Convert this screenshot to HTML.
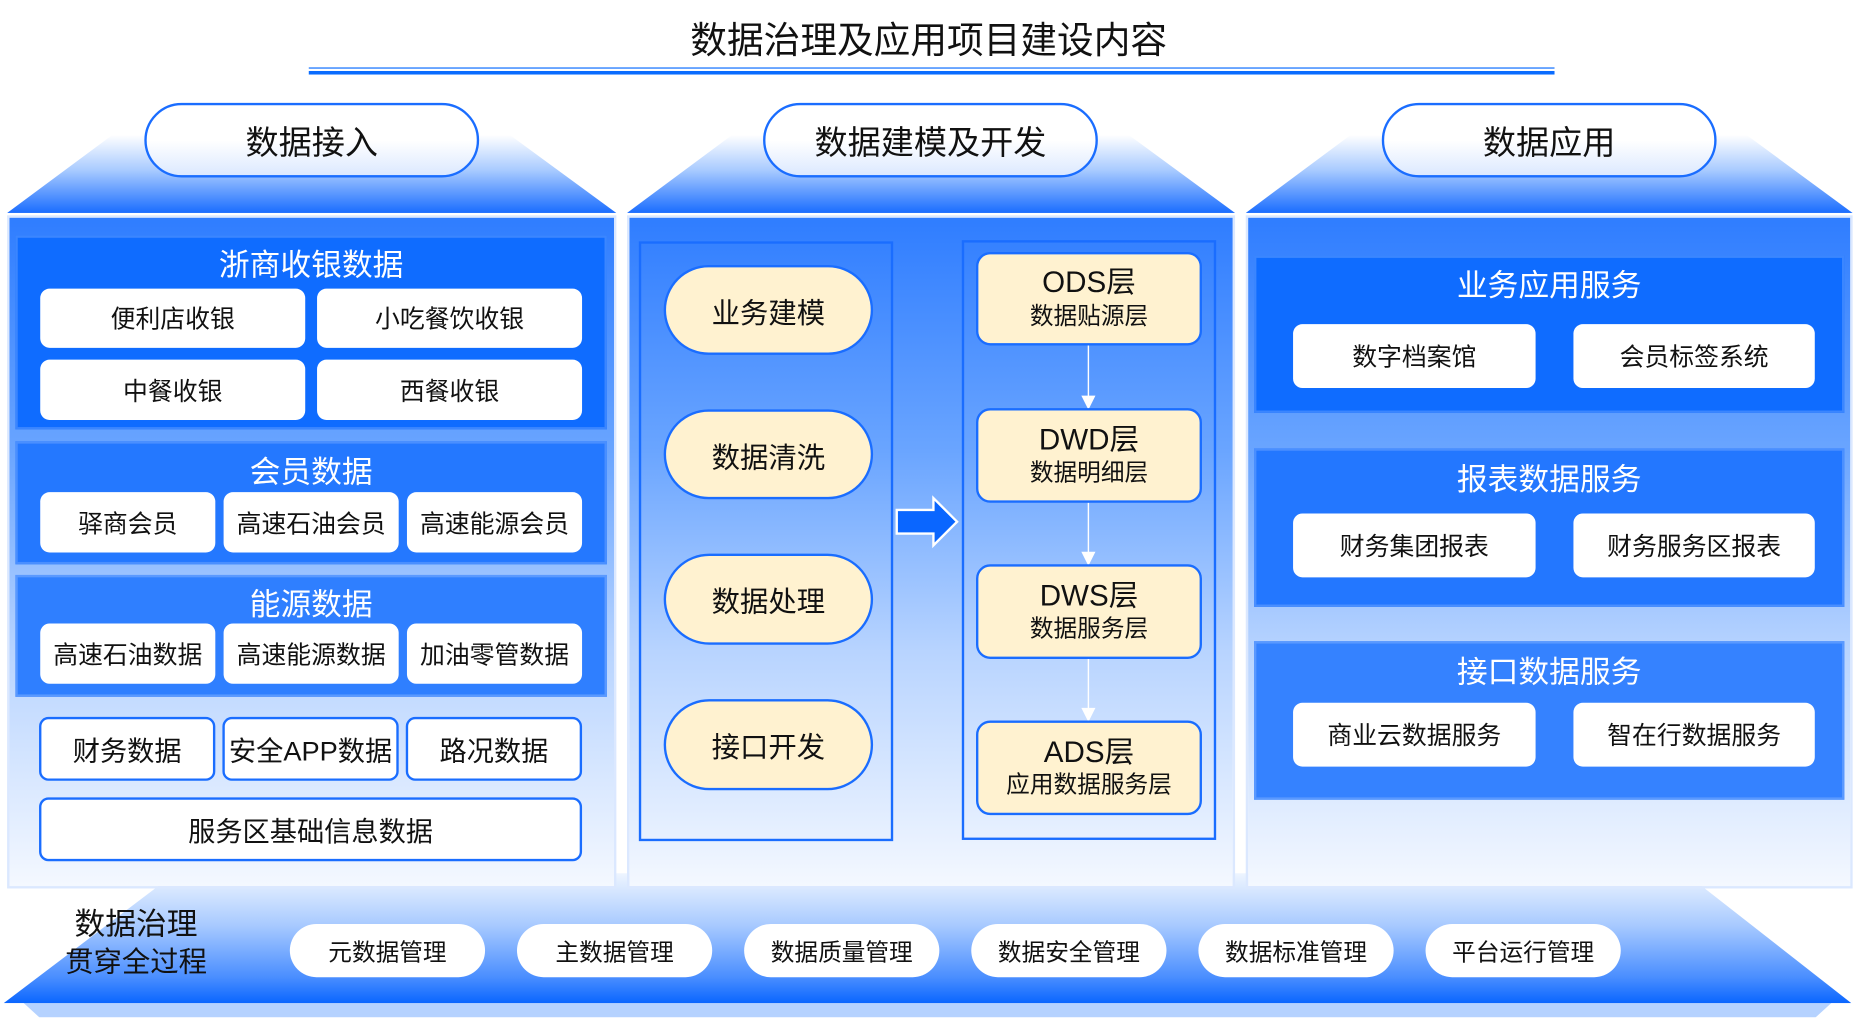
<!DOCTYPE html>
<html><head><meta charset="utf-8">
<style>
html,body{margin:0;padding:0;background:#fff;width:1855px;height:1020px;overflow:hidden}
#w{position:absolute;left:0;top:0;width:1568px;height:862px;transform:scale(1.18304);transform-origin:0 0;font-family:"Liberation Sans","Noto Sans CJK SC",sans-serif;color:#111}
.a{position:absolute;box-sizing:border-box}
.c{display:flex;align-items:center;justify-content:center;text-align:center}
.trap{background:linear-gradient(to bottom,rgba(255,255,255,1) 0%,#a9cbff 45%,#1a6dff 100%)}
.panel{background:linear-gradient(to bottom,#2f7dff 0%,#6aa5ff 35%,#b8d4ff 65%,#f4f8ff 100%);border:2px solid #dbe8ff}
.hp{border:2px solid #1a6dff;border-radius:32px;background:linear-gradient(to bottom,#fff 0%,#fff 50%,#dce9ff 100%);font-size:28px}
.g{background:#0f6cff;opacity:1}
.gt{color:#fff;font-size:26px}
.wb{background:#fff;border-radius:8px;font-size:21px}
.bb{background:#fff;border:2px solid #1a6dff;border-radius:8px;font-size:23px}
.ov{background:#fff2d0;border:2px solid #1a6dff;border-radius:40px;font-size:24px}
.ly{background:#fff2d0;border:2px solid #1a6dff;border-radius:12px;flex-direction:column;line-height:1.25}
.ly b{font-weight:normal;font-size:25px}
.ly span{font-size:20px}
.pill{background:#fff;border-radius:23px;font-size:20px}
</style></head><body><div id="w">
<div class="a c" style="left:480px;top:10px;width:610px;height:42px;font-size:31px">数据治理及应用项目建设内容</div>
<div class="a" style="left:261px;top:57px;width:1053px;height:1px;background:#0a6cff"></div>
<div class="a" style="left:261px;top:60px;width:1053px;height:3px;background:#0a6cff"></div>

<!-- bottom band -->
<div class="a" style="left:18px;top:846px;width:1532px;height:14px;background:#b5d2ff;clip-path:polygon(0 0,100% 0,99% 100%,1% 100%)"></div>
<div class="a" style="left:3px;top:738px;width:1562px;height:110px;background:linear-gradient(to bottom,#eef5ff 0%,#a8caff 40%,#4a8eff 80%,#0a66ff 100%);clip-path:polygon(9.3% 0,91% 0,100% 100%,0 100%)"></div>

<!-- trapezoids -->
<div class="a trap" style="left:6px;top:114px;width:515px;height:66px;clip-path:polygon(17.3% 0,82.5% 0,100% 100%,0 100%)"></div>
<div class="a trap" style="left:530px;top:114px;width:514px;height:66px;clip-path:polygon(17.3% 0,82.5% 0,100% 100%,0 100%)"></div>
<div class="a trap" style="left:1053px;top:114px;width:513px;height:66px;clip-path:polygon(17.3% 0,82.5% 0,100% 100%,0 100%)"></div>
<div class="a hp c" style="left:122px;top:87px;width:283px;height:63px">数据接入</div>
<div class="a hp c" style="left:645px;top:87px;width:283px;height:63px">数据建模及开发</div>
<div class="a hp c" style="left:1168px;top:87px;width:283px;height:63px">数据应用</div>

<!-- panels -->
<div class="a panel" style="left:6px;top:182px;width:515px;height:569px"></div>
<div class="a panel" style="left:530px;top:182px;width:514px;height:569px"></div>
<div class="a panel" style="left:1053px;top:182px;width:513px;height:569px"></div>

<!-- col1 -->
<div class="a g" style="left:13px;top:199px;width:500px;height:164px;border:2px solid #3b86ff"></div>
<div class="a c gt" style="left:13px;top:205px;width:500px;height:34px">浙商收银数据</div>
<div class="a wb c" style="left:34px;top:244px;width:224px;height:50px">便利店收银</div>
<div class="a wb c" style="left:268px;top:244px;width:224px;height:50px">小吃餐饮收银</div>
<div class="a wb c" style="left:34px;top:304px;width:224px;height:51px">中餐收银</div>
<div class="a wb c" style="left:268px;top:304px;width:224px;height:51px">西餐收银</div>

<div class="a g" style="left:13px;top:373px;width:500px;height:104px;background:#2478ff;border:2px solid #4a8fff"></div>
<div class="a c gt" style="left:13px;top:380px;width:500px;height:34px">会员数据</div>
<div class="a wb c" style="left:34px;top:416px;width:148px;height:51px">驿商会员</div>
<div class="a wb c" style="left:189px;top:416px;width:148px;height:51px">高速石油会员</div>
<div class="a wb c" style="left:344px;top:416px;width:148px;height:51px">高速能源会员</div>

<div class="a g" style="left:13px;top:486px;width:500px;height:103px;background:#2f7fff;border:2px solid #5a99ff"></div>
<div class="a c gt" style="left:13px;top:492px;width:500px;height:34px">能源数据</div>
<div class="a wb c" style="left:34px;top:527px;width:148px;height:51px">高速石油数据</div>
<div class="a wb c" style="left:189px;top:527px;width:148px;height:51px">高速能源数据</div>
<div class="a wb c" style="left:344px;top:527px;width:148px;height:51px">加油零管数据</div>

<div class="a bb c" style="left:33px;top:606px;width:149px;height:54px">财务数据</div>
<div class="a bb c" style="left:188px;top:606px;width:149px;height:54px">安全APP数据</div>
<div class="a bb c" style="left:343px;top:606px;width:149px;height:54px">路况数据</div>
<div class="a bb c" style="left:33px;top:674px;width:459px;height:54px">服务区基础信息数据</div>

<!-- col2 -->
<div class="a" style="left:540px;top:204px;width:215px;height:507px;border:2px solid #1a6dff"></div>
<div class="a ov c" style="left:561px;top:224px;width:177px;height:76px">业务建模</div>
<div class="a ov c" style="left:561px;top:346px;width:177px;height:76px">数据清洗</div>
<div class="a ov c" style="left:561px;top:468px;width:177px;height:77px">数据处理</div>
<div class="a ov c" style="left:561px;top:591px;width:177px;height:77px">接口开发</div>
<svg class="a" style="left:756px;top:418px" width="56" height="46"><polygon points="2,13 33,13 33,3 53,23 33,43 33,33 2,33" fill="#0a66ff" stroke="#fff" stroke-width="2"/></svg>
<div class="a" style="left:813px;top:203px;width:215px;height:507px;border:2px solid #1a6dff"></div>
<svg class="a" style="left:900px;top:290px" width="40" height="330">
<g stroke="#fff" stroke-width="1.2" fill="#fff">
<line x1="20" y1="2" x2="20" y2="48"/><polygon points="15,45 25,45 20,55"/>
<line x1="20" y1="135" x2="20" y2="180"/><polygon points="15,177 25,177 20,187"/>
<line x1="20" y1="267" x2="20" y2="312"/><polygon points="15,309 25,309 20,319"/>
</g></svg>
<div class="a ly c" style="left:825px;top:213px;width:191px;height:79px"><b>ODS层</b><span>数据贴源层</span></div>
<div class="a ly c" style="left:825px;top:345px;width:191px;height:80px"><b>DWD层</b><span>数据明细层</span></div>
<div class="a ly c" style="left:825px;top:477px;width:191px;height:80px"><b>DWS层</b><span>数据服务层</span></div>
<div class="a ly c" style="left:825px;top:609px;width:191px;height:80px"><b>ADS层</b><span>应用数据服务层</span></div>

<!-- col3 -->
<div class="a g" style="left:1060px;top:216px;width:499px;height:133px;border:2px solid #3b86ff"></div>
<div class="a c gt" style="left:1060px;top:222px;width:499px;height:34px">业务应用服务</div>
<div class="a wb c" style="left:1093px;top:274px;width:205px;height:54px">数字档案馆</div>
<div class="a wb c" style="left:1330px;top:274px;width:204px;height:54px">会员标签系统</div>
<div class="a g" style="left:1060px;top:379px;width:499px;height:134px;background:#2377ff;border:2px solid #4a8fff"></div>
<div class="a c gt" style="left:1060px;top:386px;width:499px;height:34px">报表数据服务</div>
<div class="a wb c" style="left:1093px;top:434px;width:205px;height:54px">财务集团报表</div>
<div class="a wb c" style="left:1330px;top:434px;width:204px;height:54px">财务服务区报表</div>
<div class="a g" style="left:1060px;top:542px;width:499px;height:134px;background:#3582ff;border:2px solid #5a99ff"></div>
<div class="a c gt" style="left:1060px;top:549px;width:499px;height:34px">接口数据服务</div>
<div class="a wb c" style="left:1093px;top:594px;width:205px;height:54px">商业云数据服务</div>
<div class="a wb c" style="left:1330px;top:594px;width:204px;height:54px">智在行数据服务</div>

<!-- governance -->
<div class="a c" style="left:40px;top:763px;width:150px;height:32px;font-size:26px">数据治理</div>
<div class="a c" style="left:40px;top:794px;width:150px;height:32px;font-size:24px">贯穿全过程</div>
<div class="a pill c" style="left:245px;top:781px;width:165px;height:45px">元数据管理</div>
<div class="a pill c" style="left:437px;top:781px;width:165px;height:45px">主数据管理</div>
<div class="a pill c" style="left:629px;top:781px;width:165px;height:45px">数据质量管理</div>
<div class="a pill c" style="left:821px;top:781px;width:165px;height:45px">数据安全管理</div>
<div class="a pill c" style="left:1013px;top:781px;width:165px;height:45px">数据标准管理</div>
<div class="a pill c" style="left:1205px;top:781px;width:165px;height:45px">平台运行管理</div>
</div></body></html>
